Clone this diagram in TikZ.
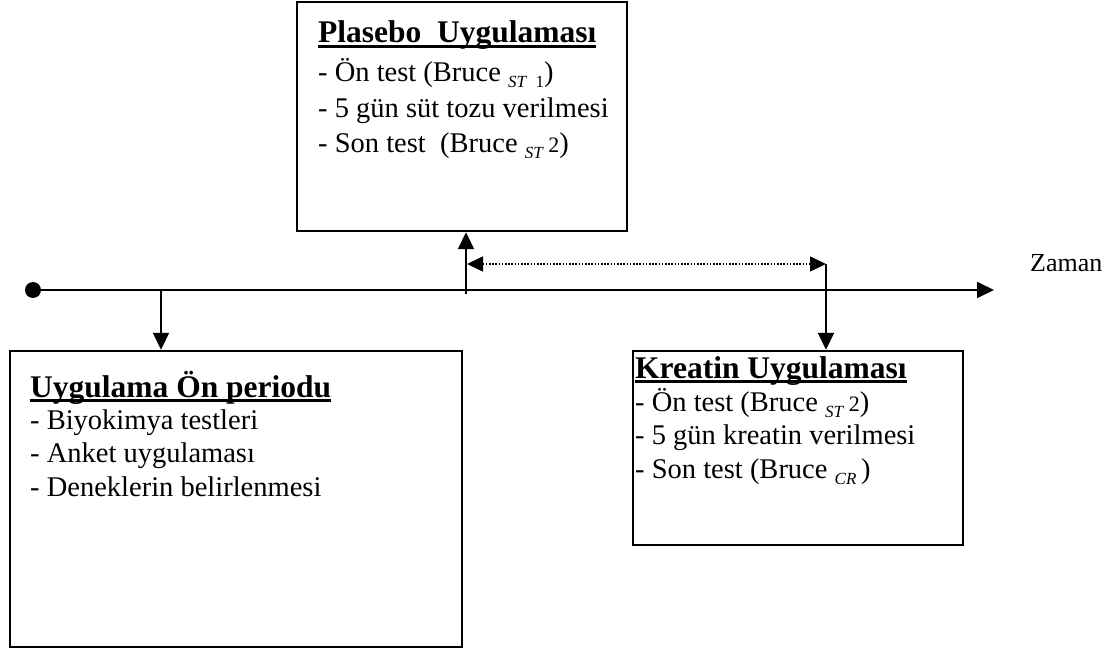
\documentclass[tikz,border=0pt]{standalone}
\usepackage{fontspec}
\setmainfont{Liberation Serif}
\usetikzlibrary{arrows.meta}
\newcommand\myul[1]{\setbox0\hbox{#1}\rlap{\rule[-5pt]{\wd0}{2.8pt}}\box0}
\newcommand\sbs[1]{\raisebox{-6pt}{\fontsize{17}{17}\selectfont #1}}
\newcommand\midsz[1]{{\fontsize{22}{22}\selectfont #1}}
\begin{document}
\begin{tikzpicture}[x=1pt,y=-1pt,
  box/.style={draw,line width=2.4pt,inner sep=0pt,minimum width=#1},
  txt/.style={anchor=base west,inner sep=0pt,font=\fontsize{28.5}{32}\selectfont},
  ttl/.style={txt,font=\fontsize{31.5}{34}\selectfont\bfseries},
  arr/.style={line width=1.8pt,-{Triangle[length=17pt,width=16pt]}},
  dotarr/.style={line width=1.6pt,dash pattern=on 1.6pt off 1.6pt,{Triangle[length=16pt,width=15pt]}-{Triangle[length=16pt,width=15pt]}}]
\useasboundingbox (0,0) rectangle (1114,652);
% boxes
\node[box=330pt,minimum height=229pt] (plasebo) at (462,116.5) {};
\node[box=452pt,minimum height=296pt] (pre) at (236,499) {};
\node[box=330pt,minimum height=194pt] (kreatin) at (798,448) {};
% timeline
\node[circle,fill,inner sep=0pt,minimum size=16pt] (start) at (33,290) {};
\coordinate (end) at (994,290);
\draw[arr] (start.center) -- (end);
\node[anchor=base west,inner sep=0pt,font=\fontsize{26}{30}\selectfont] (zaman) at (1030,272) {Zaman};
% arrows
\coordinate (t1) at (161,290);
\draw[arr] (t1) -- (t1 |- pre.north);
\coordinate (t2) at (466,294);
\draw[arr] (t2) -- (t2 |- plasebo.south);
\coordinate (t3) at (826,264);
\coordinate (d1) at (467,264);
\draw[arr] (t3) -- (t3 |- kreatin.north);
\draw[dotarr] (d1) -- (t3);
% plasebo text
\node[ttl] (p0) at (318,43) {\myul{Plasebo\ \ Uygulaması}};
\node[txt] (p1) at (318,82) {- Ön test (Bruce \sbs{\textit{ST}\ \ 1})};
\node[txt] (p2) at (318,118) {- 5 gün süt tozu verilmesi};
\node[txt] (p3) at (318,153) {- Son test\ \ (Bruce \sbs{\textit{ST}}\,\midsz{2})};
% pre text
\node[ttl] (u0) at (30,397) {\myul{Uygulama Ön periodu}};
\node[txt] (u1) at (30,429) {- Biyokimya testleri};
\node[txt] (u2) at (30,462) {- Anket uygulaması};
\node[txt] (u3) at (30,496) {- Deneklerin belirlenmesi};
% kreatin text
\node[ttl] (k0) at (635,378) {\myul{Kreatin Uygulaması}};
\node[txt] (k1) at (635,411) {- Ön test (Bruce \sbs{\textit{ST}}\,\midsz{2})};
\node[txt] (k2) at (635,444) {- 5 gün kreatin verilmesi};
\node[txt] (k3) at (635,478) {- Son test (Bruce \sbs{\textit{CR}}\,)};
\end{tikzpicture}
\end{document}
